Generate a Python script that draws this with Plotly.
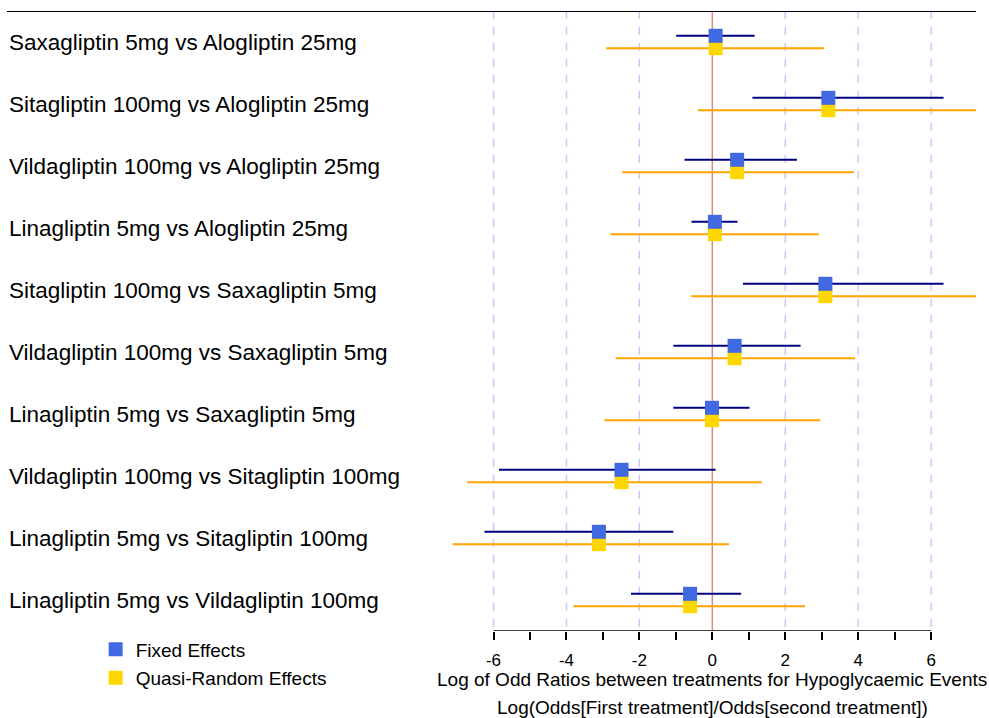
import plotly.graph_objects as go

comparisons = [
    "Saxagliptin 5mg vs Alogliptin 25mg",
    "Sitagliptin 100mg vs Alogliptin 25mg",
    "Vildagliptin 100mg vs Alogliptin 25mg",
    "Linagliptin 5mg vs Alogliptin 25mg",
    "Sitagliptin 100mg vs Saxagliptin 5mg",
    "Vildagliptin 100mg vs Saxagliptin 5mg",
    "Linagliptin 5mg vs Saxagliptin 5mg",
    "Vildagliptin 100mg vs Sitagliptin 100mg",
    "Linagliptin 5mg vs Sitagliptin 100mg",
    "Linagliptin 5mg vs Vildagliptin 100mg",
]
fixed_est = [0.09, 3.18, 0.68, 0.07, 3.10, 0.61, -0.01, -2.49, -3.11, -0.61]
fixed_lo = [-0.99, 1.10, -0.76, -0.57, 0.84, -1.07, -1.07, -5.85, -6.25, -2.23]
fixed_hi = [1.16, 6.34, 2.32, 0.69, 6.34, 2.42, 1.02, 0.09, -1.07, 0.79]
random_est = [0.09, 3.18, 0.68, 0.07, 3.10, 0.61, -0.01, -2.49, -3.11, -0.61]
random_lo = [-2.91, -0.40, -2.47, -2.79, -0.58, -2.65, -2.96, -6.72, -7.12, -3.81]
random_hi = [3.07, 8.6, 3.88, 2.92, 8.4, 3.92, 2.96, 1.36, 0.46, 2.54]
x_ticks = list(range(-6, 7))
x_tick_labels = [str(v) if v % 2 == 0 else "" for v in x_ticks]
grid_vals = [-6, -4, -2, 2, 4, 6]

FONT = "Liberation Sans, Arial, sans-serif"
rows = list(range(1, len(comparisons) + 1))
y_fixed = [r - 0.1 for r in rows]
y_random = [r + 0.1 for r in rows]

fig = go.Figure()
fig.add_trace(go.Scatter(
    x=random_est, y=y_random, mode="markers", name="Quasi-Random Effects",
    marker=dict(symbol="square", size=14, color="#FFD700", line=dict(width=0)),
    error_x=dict(type="data", symmetric=False,
                 array=[h - e for h, e in zip(random_hi, random_est)],
                 arrayminus=[e - l for e, l in zip(random_est, random_lo)],
                 color="#FFA500", thickness=2, width=0),
    legend="legend2", hoverinfo="skip",
))
fig.add_trace(go.Scatter(
    x=fixed_est, y=y_fixed, mode="markers", name="Fixed Effects",
    marker=dict(symbol="square", size=14, color="#4169E1", line=dict(width=0)),
    error_x=dict(type="data", symmetric=False,
                 array=[h - e for h, e in zip(fixed_hi, fixed_est)],
                 arrayminus=[e - l for e, l in zip(fixed_est, fixed_lo)],
                 color="#000080", thickness=2, width=0),
    legend="legend", hoverinfo="skip",
))

shapes = []
for g in grid_vals:
    shapes.append(dict(type="line", xref="x", yref="y", x0=g, x1=g, y0=0.5, y1=10.5,
                       line=dict(color="#c8c8ff", width=1.5, dash="8px,8px"), layer="below"))
shapes.append(dict(type="line", xref="x", yref="y", x0=0, x1=0, y0=0.5, y1=10.5,
                   line=dict(color="#d98c80", width=1.5), layer="below"))
shapes.append(dict(type="line", xref="paper", yref="y", x0=0, x1=1, y0=0.5, y1=0.5,
                   line=dict(color="black", width=2)))
shapes.append(dict(type="line", xref="x", yref="y", x0=x_ticks[0], x1=x_ticks[-1], y0=10.5, y1=10.5,
                   line=dict(color="black", width=1.5)))

annotations = []
for r, lab in zip(rows, comparisons):
    annotations.append(dict(text=lab, xref="paper", yref="y", x=0, y=r, xanchor="left",
                            yanchor="middle", showarrow=False,
                            font=dict(size=22.5, color="black", family=FONT)))
annotations.append(dict(text="Log of Odd Ratios between treatments for Hypoglycaemic Events",
                        xref="x", yref="paper", x=0, y=-0.079, xanchor="center", yanchor="middle",
                        showarrow=False, font=dict(size=19, color="black", family=FONT)))
annotations.append(dict(text="Log(Odds[First treatment]/Odds[second treatment])",
                        xref="x", yref="paper", x=0, y=-0.124, xanchor="center", yanchor="middle",
                        showarrow=False, font=dict(size=19, color="black", family=FONT)))

fig.update_layout(
    width=989, height=718,
    margin=dict(l=7, r=13, t=11, b=87),
    paper_bgcolor="white", plot_bgcolor="white",
    showlegend=True,
    legend=dict(x=0.0915, y=-0.0298, xanchor="left", yanchor="middle",
                bgcolor="rgba(0,0,0,0)", font=dict(size=19, color="black", family=FONT)),
    legend2=dict(x=0.0915, y=-0.0758, xanchor="left", yanchor="middle",
                 bgcolor="rgba(0,0,0,0)", font=dict(size=19, color="black", family=FONT)),
    xaxis=dict(range=[-19.34, 7.23], tickvals=x_ticks, ticktext=x_tick_labels,
               showgrid=False, zeroline=False, showline=False, ticks="outside",
               ticklen=8, tickwidth=1.5, tickcolor="black", ticklabelstandoff=6,
               tickfont=dict(size=17, color="black", family=FONT), fixedrange=True),
    yaxis=dict(range=[10.5, 0.5], visible=False, fixedrange=True),
    shapes=shapes, annotations=annotations,
)

fig.write_html("out.html")
